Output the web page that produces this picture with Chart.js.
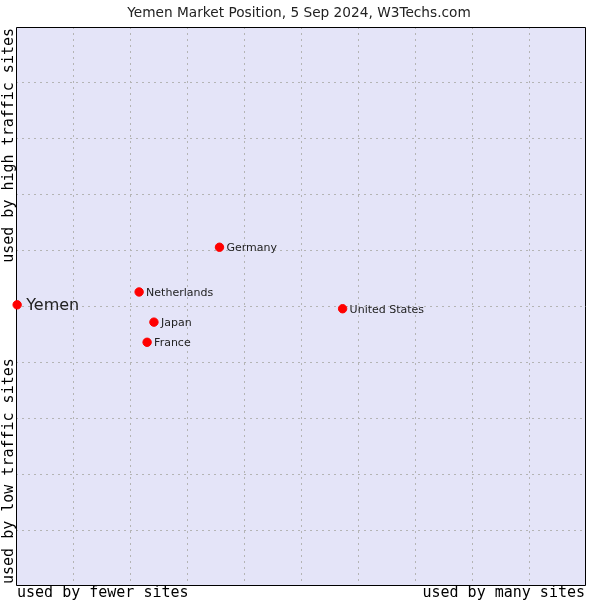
<!DOCTYPE html>
<html>
<head>
<meta charset="utf-8">
<script src="https://cdn.jsdelivr.net/npm/chart.js@4/dist/chart.umd.min.js"></script>
<style>
  html, body { margin: 0; padding: 0; background: #ffffff; }
  #wrap { width: 600px; height: 600px; }
</style>
</head>
<body>
<div id="wrap"><canvas id="c" width="600" height="600"></canvas></div>
<script>
const titleText = "Yemen Market Position, 5 Sep 2024, W3Techs.com";
const countries = ["Yemen", "Germany", "Netherlands", "Japan", "France", "United States"];
const xValues = [0.02, 3.57, 2.16, 2.42, 2.30, 5.73];
const yValues = [5.03, 6.06, 5.26, 4.72, 4.36, 4.96];
const xAxisLabels = ["used by fewer sites", "used by many sites"];
const yAxisLabels = ["used by low traffic sites", "used by high traffic sites"];
const highlight = "Yemen";

const points = countries.map((c, i) => ({ x: xValues[i], y: yValues[i], label: c }));

const decorPlugin = {
  id: 'decor',
  beforeDraw(chart) {
    const { ctx, chartArea: a } = chart;
    ctx.save();
    ctx.fillStyle = '#e4e4f8';
    ctx.fillRect(a.left, a.top, a.right - a.left, a.bottom - a.top);
    ctx.restore();
  },
  beforeDatasetsDraw(chart) {
    const { ctx, chartArea: a } = chart;
    ctx.save();
    ctx.strokeStyle = '#000';
    ctx.lineWidth = 1;
    ctx.setLineDash([]);
    ctx.beginPath();
    const l = Math.round(a.left) + 0.5, t = Math.round(a.top) + 0.5;
    const r = Math.round(a.right) - 0.5, b = Math.round(a.bottom) - 0.5;
    ctx.moveTo(l, t); ctx.lineTo(r, t); ctx.lineTo(r, b); ctx.lineTo(l, b); ctx.closePath();
    ctx.stroke();
    ctx.restore();
  },
  afterDatasetsDraw(chart) {
    const { ctx, chartArea: a } = chart;
    ctx.save();
    // point labels
    const meta = chart.getDatasetMeta(0);
    ctx.textBaseline = 'middle';
    ctx.textAlign = 'left';
    meta.data.forEach((el, i) => {
      const name = countries[i];
      ctx.fillStyle = '#222';
      if (name === highlight) {
        ctx.font = '16px "DejaVu Sans"';
        ctx.fillText(name, el.x + 9, el.y + 1);
      } else {
        ctx.font = '11px "DejaVu Sans"';
        ctx.fillText(name, el.x + 7, el.y + 1);
      }
    });

    // title
    ctx.font = '13.7px "DejaVu Sans"';
    ctx.fillStyle = '#222';
    ctx.textAlign = 'center';
    ctx.textBaseline = 'middle';
    ctx.fillText(titleText, 299, 13);

    // axis labels
    ctx.font = '15px "DejaVu Sans Mono"';
    ctx.fillStyle = '#000';
    ctx.textBaseline = 'alphabetic';
    ctx.textAlign = 'left';
    ctx.fillText(xAxisLabels[0], a.left + 1, 597);
    ctx.textAlign = 'right';
    ctx.fillText(xAxisLabels[1], a.right - 1, 597);

    ctx.save();
    ctx.translate(13, 0);
    ctx.rotate(-Math.PI / 2);
    ctx.textAlign = 'left';
    ctx.fillText(yAxisLabels[0], -a.bottom + 2, 0);
    ctx.textAlign = 'right';
    ctx.fillText(yAxisLabels[1], -a.top - 1, 0);
    ctx.restore();
    ctx.restore();
  }
};

const gridColor = (c) => (c.index === 0 || c.index === 10) ? 'rgba(0,0,0,0)' : '#b4b4b4';

new Chart(document.getElementById('c'), {
  type: 'scatter',
  data: {
    datasets: [{
      data: points,
      backgroundColor: '#ff0000',
      borderColor: '#ff0000',
      pointRadius: 4.2,
      pointHoverRadius: 4.2,
      pointStyle: 'circle',
      clip: false
    }]
  },
  options: {
    responsive: false,
    animation: false,
    events: [],
    layout: { padding: { left: 16, top: 27, right: 14, bottom: 14 } },
    plugins: { legend: { display: false }, tooltip: { enabled: false }, title: { display: false } },
    scales: {
      x: {
        type: 'linear', min: 0, max: 10,
        ticks: { display: false, stepSize: 1 },
        grid: { color: gridColor, drawTicks: false, tickLength: 0 },
        border: { display: false, dash: [2, 4] }
      },
      y: {
        type: 'linear', min: 0, max: 10,
        ticks: { display: false, stepSize: 1 },
        grid: { color: gridColor, drawTicks: false, tickLength: 0 },
        border: { display: false, dash: [2, 4] }
      }
    }
  },
  plugins: [decorPlugin]
});
</script>
</body>
</html>
